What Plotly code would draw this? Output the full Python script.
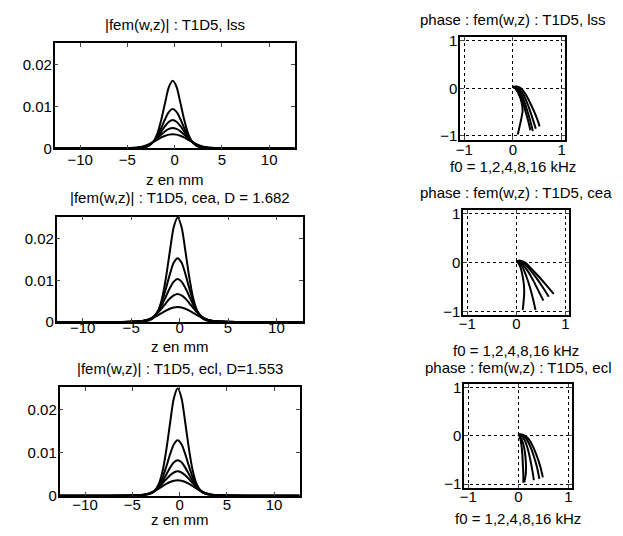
import plotly.graph_objects as go

# ---------------- data ----------------
z = [-12.7, -8, -6, -4.7, -3.7, -3.2, -2.7, -2.2, -1.8, -1.4, -1.0, -0.6, -0.2,
     0.2, 0.6, 1.0, 1.4, 1.8, 2.3, 2.8, 3.3, 4.3, 5.8, 8.0, 12.7]

# |fem(w,z)| : T1D5, lss  (f0 = 1,2,4,8,16 kHz)
lss_1 = [0.0, 0.00001, 0.00002, 0.00005, 0.00011, 0.00024, 0.00065, 0.00178, 0.00373, 0.00697, 0.01102, 0.01474, 0.0162,
         0.01474, 0.01102, 0.00697, 0.00373, 0.00178, 0.00065, 0.00024, 0.00011, 0.00005, 0.00002, 0.00001, 0.0]
lss_2 = [0.0, 0.00001, 0.00003, 0.00007, 0.00016, 0.00033, 0.00075, 0.00169, 0.0031, 0.00498, 0.00705, 0.00874, 0.0094,
         0.00874, 0.00705, 0.00498, 0.0031, 0.00169, 0.00075, 0.00033, 0.00016, 0.00007, 0.00003, 0.00001, 0.0]
lss_3 = [0.00001, 0.00001, 0.00003, 0.00008, 0.0002, 0.00041, 0.00082, 0.0017, 0.00279, 0.00408, 0.00537, 0.00639, 0.0068,
         0.00639, 0.00537, 0.00408, 0.00279, 0.0017, 0.00082, 0.00041, 0.0002, 0.00008, 0.00003, 0.00001, 0.00001]
lss_4 = [0.00001, 0.00001, 0.00004, 0.0001, 0.00025, 0.00049, 0.00093, 0.00172, 0.0025, 0.00333, 0.00412, 0.00466, 0.0049,
         0.00466, 0.00412, 0.00333, 0.0025, 0.00172, 0.00093, 0.00049, 0.00025, 0.0001, 0.00004, 0.00001, 0.00001]
lss_5 = [0.00001, 0.00002, 0.00005, 0.00012, 0.00031, 0.00058, 0.00102, 0.0016, 0.00211, 0.00262, 0.00303, 0.0033, 0.0034,
         0.0033, 0.00303, 0.00262, 0.00211, 0.0016, 0.00102, 0.00058, 0.00031, 0.00012, 0.00005, 0.00002, 0.00001]

# |fem(w,z)| : T1D5, cea
cea_1 = [0.00001, 0.00001, 0.00003, 0.00008, 0.00018, 0.00038, 0.001, 0.00275, 0.00575, 0.01075, 0.017, 0.02275, 0.025,
         0.02275, 0.017, 0.01075, 0.00575, 0.00275, 0.001, 0.00038, 0.00018, 0.00008, 0.00003, 0.00001, 0.00001]
cea_2 = [0.00001, 0.00002, 0.00005, 0.00011, 0.00026, 0.00054, 0.00122, 0.00275, 0.00505, 0.00811, 0.01148, 0.01423, 0.0153,
         0.01423, 0.01148, 0.00811, 0.00505, 0.00275, 0.00122, 0.00054, 0.00026, 0.00011, 0.00005, 0.00002, 0.00001]
cea_3 = [0.00001, 0.00002, 0.00005, 0.00012, 0.00031, 0.00062, 0.00124, 0.00258, 0.00422, 0.00618, 0.00814, 0.00968, 0.0103,
         0.00968, 0.00814, 0.00618, 0.00422, 0.00258, 0.00124, 0.00062, 0.00031, 0.00012, 0.00005, 0.00002, 0.00001]
cea_4 = [0.00001, 0.00002, 0.00005, 0.00013, 0.00034, 0.00067, 0.00127, 0.00235, 0.00342, 0.00456, 0.00563, 0.00637, 0.0067,
         0.00637, 0.00563, 0.00456, 0.00342, 0.00235, 0.00127, 0.00067, 0.00034, 0.00013, 0.00005, 0.00002, 0.00001]
cea_5 = [0.00001, 0.00002, 0.00005, 0.00013, 0.00032, 0.00061, 0.00108, 0.00169, 0.00223, 0.00277, 0.0032, 0.00349, 0.0036,
         0.00349, 0.0032, 0.00277, 0.00223, 0.00169, 0.00108, 0.00061, 0.00032, 0.00013, 0.00005, 0.00002, 0.00001]

# |fem(w,z)| : T1D5, ecl
ecl_1 = [0.00001, 0.00001, 0.00003, 0.00008, 0.00018, 0.00038, 0.001, 0.00275, 0.00575, 0.01075, 0.017, 0.02275, 0.025,
         0.02275, 0.017, 0.01075, 0.00575, 0.00275, 0.001, 0.00038, 0.00018, 0.00008, 0.00003, 0.00001, 0.00001]
ecl_2 = [0.00001, 0.00002, 0.00004, 0.00009, 0.00022, 0.00045, 0.00103, 0.00232, 0.00426, 0.00684, 0.00968, 0.012, 0.0129,
         0.012, 0.00968, 0.00684, 0.00426, 0.00232, 0.00103, 0.00045, 0.00022, 0.00009, 0.00004, 0.00002, 0.00001]
ecl_3 = [0.00001, 0.00002, 0.00004, 0.0001, 0.00025, 0.0005, 0.001, 0.00208, 0.0034, 0.00498, 0.00656, 0.0078, 0.0083,
         0.0078, 0.00656, 0.00498, 0.0034, 0.00208, 0.001, 0.0005, 0.00025, 0.0001, 0.00004, 0.00002, 0.00001]
ecl_4 = [0.00001, 0.00002, 0.00005, 0.00011, 0.00029, 0.00057, 0.00108, 0.002, 0.00291, 0.00388, 0.00479, 0.00542, 0.0057,
         0.00542, 0.00479, 0.00388, 0.00291, 0.002, 0.00108, 0.00057, 0.00029, 0.00011, 0.00005, 0.00002, 0.00001]
ecl_5 = [0.00001, 0.00002, 0.00005, 0.00013, 0.00032, 0.00061, 0.00108, 0.00169, 0.00223, 0.00277, 0.0032, 0.00349, 0.0036,
         0.00349, 0.0032, 0.00277, 0.00223, 0.00169, 0.00108, 0.00061, 0.00032, 0.00013, 0.00005, 0.00002, 0.00001]

# phase : fem(w,z)  (real part, imaginary part), one curve per f0
lss_re = [[0, 0.08, 0.17, 0.27, 0.37, 0.47, 0.55],
          [0, 0.07, 0.15, 0.24, 0.32, 0.40, 0.47],
          [0, 0.06, 0.13, 0.21, 0.28, 0.35, 0.41],
          [0, 0.05, 0.12, 0.19, 0.25, 0.31, 0.36],
          [0, 0.05, 0.12, 0.18, 0.20, 0.16, 0.10]]
lss_im = [[0.03, 0.04, 0.0, -0.14, -0.34, -0.57, -0.80],
          [0.03, 0.03, -0.03, -0.18, -0.38, -0.62, -0.85],
          [0.03, 0.02, -0.05, -0.21, -0.42, -0.66, -0.90],
          [0.03, 0.01, -0.07, -0.24, -0.45, -0.67, -0.88],
          [0.03, 0.0, -0.12, -0.30, -0.47, -0.70, -0.97]]

cea_re = [[0, 0.08, 0.18, 0.30, 0.45, 0.60, 0.76],
          [0, 0.08, 0.17, 0.28, 0.41, 0.54, 0.66],
          [0, 0.07, 0.15, 0.25, 0.35, 0.45, 0.55],
          [0, 0.06, 0.13, 0.21, 0.28, 0.34, 0.39],
          [0, 0.05, 0.10, 0.14, 0.16, 0.15, 0.13]]
cea_im = [[0.03, 0.04, 0.0, -0.12, -0.28, -0.45, -0.64],
          [0.03, 0.03, -0.03, -0.15, -0.32, -0.51, -0.70],
          [0.03, 0.02, -0.06, -0.20, -0.38, -0.58, -0.78],
          [0.03, 0.0, -0.10, -0.30, -0.52, -0.75, -0.97],
          [0.03, -0.02, -0.15, -0.35, -0.56, -0.77, -0.97]]

ecl_re = [[0, 0.10, 0.20, 0.29, 0.37, 0.44, 0.49],
          [0, 0.08, 0.17, 0.25, 0.32, 0.38, 0.42],
          [0, 0.06, 0.13, 0.19, 0.24, 0.28, 0.31],
          [0, 0.04, 0.09, 0.13, 0.15, 0.15, 0.12],
          [0, 0.03, 0.06, 0.08, 0.09, 0.10, 0.10]]
ecl_im = [[0.03, 0.02, -0.06, -0.22, -0.42, -0.64, -0.86],
          [0.03, 0.01, -0.08, -0.25, -0.46, -0.68, -0.89],
          [0.03, 0.0, -0.10, -0.28, -0.50, -0.72, -0.92],
          [0.03, -0.02, -0.14, -0.33, -0.55, -0.77, -0.96],
          [0.03, -0.03, -0.18, -0.38, -0.60, -0.80, -0.97]]

x_ticks_left = [-10, -5, 0, 5, 10]
y_ticks_left = [0, 0.01, 0.02]
y_text_left = ["0", "0.01", "0.02"]
ticks_right = [-1, 0, 1]

left_titles = ["|fem(w,z)| : T1D5, lss",
               "|fem(w,z)| : T1D5, cea, D = 1.682",
               "|fem(w,z)| : T1D5, ecl, D=1.553"]
right_titles = ["phase : fem(w,z) : T1D5, lss",
                "phase : fem(w,z) : T1D5, cea",
                "phase : fem(w,z) : T1D5, ecl"]
left_xlabel = "z en mm"
right_xlabel = "f0 = 1,2,4,8,16 kHz"

mag_sets = [[lss_1, lss_2, lss_3, lss_4, lss_5],
            [cea_1, cea_2, cea_3, cea_4, cea_5],
            [ecl_1, ecl_2, ecl_3, ecl_4, ecl_5]]
phase_sets = [(lss_re, lss_im), (cea_re, cea_im), (ecl_re, ecl_im)]

# ---------------- layout geometry (pixels) ----------------
W, H = 623, 536
left_boxes = [(50, 292, 39, 147), (52, 300, 217, 325), (55, 297, 392, 503)]
right_boxes = [(459, 565, 33, 138), (462, 569, 210, 318), (463, 572, 388, 495)]
left_title_y = [20, 197, 373]
left_xlabel_y = [179, 350, 527]
left_standoff = [-3, -9, -6]
right_title_y = [15, 192, 372]
right_xlabel_y = [166, 354, 526]
right_standoff = [-5, -6, -6]

def xd(a, b):
    return [a / W, b / W]

def yd(top, bot):
    return [1 - bot / H, 1 - top / H]

FONT = "Liberation Sans, Arial, sans-serif"
fig = go.Figure()
layout = dict(width=W, height=H, margin=dict(l=0, r=0, t=0, b=0),
              paper_bgcolor="white", plot_bgcolor="white", showlegend=False,
              font=dict(family=FONT, color="black", size=14))
annotations = []

def add_text(text, xc, yc, size):
    annotations.append(dict(text=text, x=xc / W, y=1 - yc / H, xref="paper", yref="paper",
                            showarrow=False, xanchor="center", yanchor="middle",
                            font=dict(size=size)))

for i in range(3):
    # left magnitude panel
    ax = 2 * i + 1
    xs = "x" if ax == 1 else f"x{ax}"
    ys = "y" if ax == 1 else f"y{ax}"
    for curve in mag_sets[i]:
        fig.add_trace(go.Scatter(x=z, y=curve, mode="lines", xaxis=xs, yaxis=ys,
                                 line=dict(color="black", width=2, shape="spline", smoothing=0.8)))
    l, r, t, b = left_boxes[i]
    layout["xaxis" if ax == 1 else f"xaxis{ax}"] = dict(
        domain=xd(l, r), anchor=ys, range=[-12.7, 12.7], tickvals=x_ticks_left,
        ticks="inside", ticklen=4, mirror="ticks", showline=True, linecolor="black",
        linewidth=1.5, showgrid=False, zeroline=False, tickfont=dict(size=15),
        ticklabelstandoff=left_standoff[i])
    layout["yaxis" if ax == 1 else f"yaxis{ax}"] = dict(
        domain=yd(t, b), anchor=xs, range=[0, 0.0252], tickvals=y_ticks_left, ticktext=y_text_left,
        ticks="inside", ticklen=4, mirror="ticks", showline=True, linecolor="black",
        linewidth=1.5, showgrid=False, zeroline=False, tickfont=dict(size=15),
        ticklabelstandoff=-2)
    add_text(left_titles[i], (l + r) / 2, left_title_y[i], 15)
    add_text(left_xlabel, (l + r) / 2, left_xlabel_y[i], 15)

    # right phase panel
    ax = 2 * i + 2
    xs, ys = f"x{ax}", f"y{ax}"
    re_set, im_set = phase_sets[i]
    for cre, cim in zip(re_set, im_set):
        fig.add_trace(go.Scatter(x=cre, y=cim, mode="lines", xaxis=xs, yaxis=ys,
                                 line=dict(color="black", width=2, shape="spline", smoothing=0.8)))
    l, r, t, b = right_boxes[i]
    common = dict(range=[-1.08, 1.08], tickvals=ticks_right, ticks="inside", ticklen=4,
                  mirror="ticks", showline=True, linecolor="black", linewidth=2,
                  showgrid=True, gridcolor="black", griddash="dot", gridwidth=1,
                  zeroline=False, tickfont=dict(size=15))
    layout[f"xaxis{ax}"] = dict(domain=xd(l, r), anchor=ys, ticklabelstandoff=right_standoff[i], **common)
    layout[f"yaxis{ax}"] = dict(domain=yd(t, b), anchor=xs, ticklabelstandoff=-2, **common)
    add_text(right_titles[i], (l + r) / 2, right_title_y[i], 15)
    add_text(right_xlabel, (l + r) / 2, right_xlabel_y[i], 15)

layout["annotations"] = annotations
fig.update_layout(**layout)
fig.write_html("out.html", config={"displayModeBar": False},
               post_script="document.body.style.margin='0px';")
